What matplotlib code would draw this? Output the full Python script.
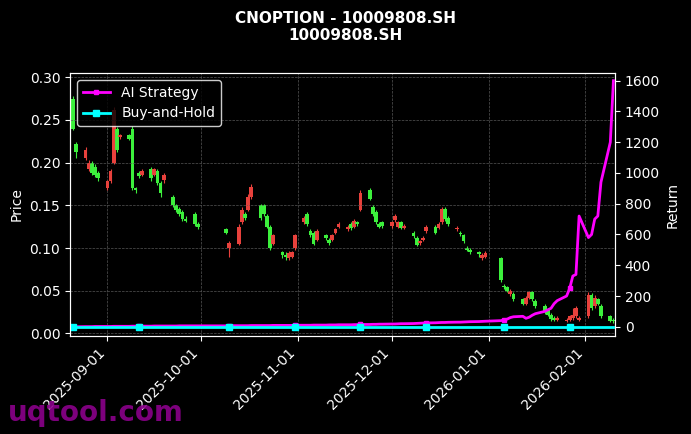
import matplotlib
matplotlib.use("Agg")
import matplotlib.pyplot as plt
import matplotlib.dates as mdates
import pandas as pd

opens = [0.275, 0.222, 0.205, 0.192, 0.200, 0.195, 0.188,
         0.170, 0.178, 0.200, 0.240, 0.230, 0.232, 0.240, 0.170, 0.188, 0.186, 0.192,
         0.186, 0.190, 0.176, 0.180, 0.160, 0.150, 0.146, 0.142, 0.134, 0.140, 0.128,
         0.122, 0.100, 0.105, 0.130, 0.140, 0.145, 0.160, 0.150, 0.150, 0.138, 0.125,
         0.105, 0.095, 0.092, 0.088, 0.090, 0.100,
         0.130, 0.140, 0.120, 0.118, 0.110, 0.115, 0.110, 0.110, 0.118, 0.125, 0.122,
         0.128, 0.125, 0.130, 0.145, 0.168, 0.148, 0.142, 0.128, 0.130,
         0.126, 0.133, 0.125, 0.130, 0.124, 0.118, 0.112, 0.106, 0.110, 0.120, 0.125,
         0.124, 0.130, 0.146, 0.135, 0.122, 0.118, 0.115, 0.100, 0.098, 0.095, 0.088, 0.090,
         0.088, 0.056, 0.054, 0.046, 0.046, 0.040, 0.035, 0.042, 0.048, 0.038, 0.032,
         0.028, 0.022, 0.018, 0.016, 0.015, 0.016, 0.018, 0.020, 0.016,
         0.020, 0.045, 0.032, 0.040, 0.032, 0.020, 0.016]
closes = [0.240, 0.212, 0.215, 0.200, 0.188, 0.186, 0.182,
          0.178, 0.190, 0.262, 0.215, 0.232, 0.228, 0.170, 0.168, 0.184, 0.190, 0.182,
          0.192, 0.176, 0.165, 0.185, 0.150, 0.145, 0.140, 0.134, 0.132, 0.128, 0.125,
          0.118, 0.106, 0.125, 0.145, 0.135, 0.160, 0.172, 0.135, 0.140, 0.125, 0.100,
          0.115, 0.092, 0.090, 0.094, 0.095, 0.115,
          0.135, 0.128, 0.115, 0.105, 0.120, 0.112, 0.106, 0.115, 0.122, 0.128, 0.125,
          0.124, 0.132, 0.128, 0.165, 0.158, 0.140, 0.130, 0.125, 0.126,
          0.130, 0.138, 0.130, 0.124, 0.126, 0.114, 0.104, 0.108, 0.112, 0.125, 0.118,
          0.128, 0.146, 0.134, 0.128, 0.124, 0.116, 0.108, 0.098, 0.095, 0.093, 0.092, 0.094,
          0.062, 0.054, 0.050, 0.050, 0.040, 0.035, 0.042, 0.048, 0.040, 0.032, 0.025,
          0.022, 0.017, 0.016, 0.018, 0.015, 0.020, 0.022, 0.030, 0.018,
          0.045, 0.030, 0.042, 0.035, 0.020, 0.015, 0.014]
highs = [0.278, 0.224, 0.218, 0.203, 0.202, 0.198, 0.190,
         0.180, 0.193, 0.265, 0.242, 0.234, 0.234, 0.243, 0.172, 0.190, 0.192, 0.195,
         0.194, 0.192, 0.178, 0.188, 0.162, 0.152, 0.148, 0.144, 0.137, 0.142, 0.130,
         0.124, 0.108, 0.128, 0.148, 0.142, 0.163, 0.175, 0.152, 0.152, 0.140, 0.127,
         0.117, 0.097, 0.095, 0.096, 0.097, 0.117,
         0.137, 0.142, 0.122, 0.120, 0.122, 0.117, 0.112, 0.117, 0.124, 0.130, 0.127,
         0.130, 0.134, 0.132, 0.168, 0.170, 0.150, 0.144, 0.130, 0.132,
         0.132, 0.140, 0.132, 0.132, 0.128, 0.120, 0.114, 0.110, 0.114, 0.127, 0.127,
         0.130, 0.148, 0.148, 0.137, 0.126, 0.120, 0.117, 0.102, 0.100, 0.097, 0.094, 0.096,
         0.090, 0.058, 0.056, 0.052, 0.048, 0.042, 0.044, 0.050, 0.050, 0.040, 0.034,
         0.030, 0.024, 0.020, 0.020, 0.018, 0.022, 0.030, 0.032, 0.020,
         0.048, 0.047, 0.045, 0.042, 0.034, 0.022, 0.018]
lows = [0.238, 0.205, 0.203, 0.190, 0.186, 0.183, 0.178,
        0.168, 0.176, 0.198, 0.212, 0.228, 0.226, 0.168, 0.164, 0.182, 0.184, 0.178,
        0.184, 0.174, 0.160, 0.176, 0.148, 0.142, 0.138, 0.132, 0.130, 0.126, 0.122,
        0.116, 0.090, 0.103, 0.128, 0.133, 0.143, 0.158, 0.133, 0.138, 0.123, 0.098,
        0.103, 0.088, 0.086, 0.086, 0.088, 0.098,
        0.128, 0.126, 0.113, 0.103, 0.108, 0.110, 0.104, 0.108, 0.116, 0.123, 0.120,
        0.121, 0.123, 0.126, 0.143, 0.156, 0.138, 0.128, 0.123, 0.124,
        0.124, 0.131, 0.123, 0.122, 0.122, 0.112, 0.102, 0.104, 0.108, 0.118, 0.116,
        0.122, 0.128, 0.132, 0.126, 0.120, 0.114, 0.106, 0.096, 0.093, 0.090, 0.086, 0.088,
        0.060, 0.052, 0.048, 0.044, 0.038, 0.033, 0.033, 0.040, 0.038, 0.030, 0.023,
        0.020, 0.015, 0.014, 0.014, 0.013, 0.014, 0.016, 0.018, 0.014,
        0.018, 0.028, 0.030, 0.033, 0.018, 0.013, 0.012]

strategy = [0, 0, 1, 1, 1, 2, 2,
            2, 2, 3, 3, 3, 3, 4, 4, 4, 4, 4, 5, 5, 5, 5, 5, 5, 6, 6, 6, 6, 6,
            6, 7, 7, 7, 7, 7, 8, 8, 8, 8, 8, 9, 9, 9, 9, 9, 10,
            10, 10, 10, 11, 11, 11, 12, 12, 12, 13, 13, 13, 14, 14, 15, 15, 16, 16, 17, 17,
            18, 18, 19, 20, 20, 21, 22, 23, 24, 25, 26, 27, 28, 28, 29, 30, 30, 31, 32, 33, 34, 35, 36,
            40, 45, 50, 60, 65, 68, 55, 62, 75, 85, 100,
            110, 120, 150, 170, 200, 250, 330, 340, 720,
            580, 600, 700, 720, 940, 1200, 1600]
buyhold = [0] * len(strategy)

holidays = ["2025-10-01", "2025-10-02", "2025-10-03", "2025-10-06", "2025-10-07",
            "2025-10-08", "2026-01-01", "2026-01-02"]
dates = pd.bdate_range("2025-08-21", periods=len(opens), freq="C", holidays=holidays)

plt.rcParams["font.family"] = "DejaVu Sans"
fig = plt.figure(figsize=(6.91, 4.34), dpi=100, facecolor="black")
ax = fig.add_axes([70 / 691, 1 - 336 / 434, 545 / 691, 263 / 434], facecolor="black")

up, down = "#e8413c", "#3cf03c"
xs = mdates.date2num(dates)
for x, o, c, h, l in zip(xs, opens, closes, highs, lows):
    col = up if c >= o else down
    ax.vlines(x, l, h, color=col, linewidth=0.8)
    ax.bar(x, max(abs(c - o), 0.0008), bottom=min(o, c), width=1.2, color=col)

ax.set_ylim(-0.003, 0.305)
ax.set_xlim(xs[0] - 1, xs[-1] + 0.5)
ax.set_ylabel("Price", color="white")
ax.grid(True, color="#555555", linestyle="--", linewidth=0.5)
ax.xaxis.set_major_locator(mdates.MonthLocator())
ax.xaxis.set_major_formatter(mdates.DateFormatter("%Y-%m-%d"))
plt.setp(ax.get_xticklabels(), rotation=45, ha="right")
ax.tick_params(colors="white")
for s in ax.spines.values():
    s.set_color("white")

ax2 = ax.twinx()
l1, = ax2.plot(dates, strategy, color="#ff00ff", linewidth=2, marker="s", markersize=3,
               markevery=15, label="AI Strategy")
l2, = ax2.plot(dates, buyhold, color="#00ffff", linewidth=2, marker="s", markersize=4,
               markevery=15, label="Buy-and-Hold")
ax2.set_ylim(-60, 1650)
ax2.set_ylabel("Return", color="white")
ax2.tick_params(colors="white")
for s in ax2.spines.values():
    s.set_color("white")
leg = ax2.legend(handles=[l1, l2], loc="upper left", facecolor="black", edgecolor="white",
                 labelcolor="white", fontsize=10)

fig.suptitle("CNOPTION - 10009808.SH\n10009808.SH", color="white", fontweight="bold",
             fontsize=11, y=0.975)
fig.text(0.012, 0.03, "uqtool.com", color="#8b008b", fontsize=20, fontweight="bold", alpha=0.9)
fig.savefig("out.png", dpi=100, facecolor="black")
